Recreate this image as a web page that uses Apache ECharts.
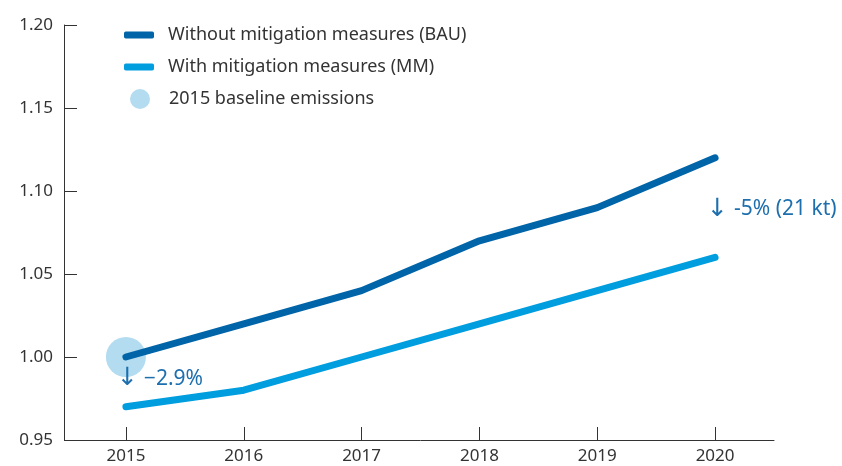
<!DOCTYPE html>
<html>
<head>
<meta charset="utf-8">
<script src="https://cdn.jsdelivr.net/npm/echarts@6/dist/echarts.min.js"></script>
<style>
  html, body { margin: 0; padding: 0; background: #fff; }
  #chart { width: 842px; height: 466px; }
</style>
</head>
<body>
<div id="chart"></div>
<script>
  // data
  const years = ['2015', '2016', '2017', '2018', '2019', '2020']
  const bau = [1.00, 1.02, 1.04, 1.07, 1.09, 1.12]
  const mm = [0.97, 0.98, 1.00, 1.02, 1.04, 1.06]
  const baseline = [['2015', 1.00]]
  const notes = [
    { coord: ['2015', 0.987], text: '−2.9%', size: 21, shift: -9 },
    { coord: ['2020', 1.089], text: '-5% (21 kt)', size: 21, shift: -8 }
  ]

  const font = '"Noto Sans", sans-serif'
  const dark = '#0064a8'
  const light = '#009ddf'
  const pale = '#b3dcf0'
  const ink = '#333333'
  const noteColor = '#1d6fae'

  let option = {
    animation: false,
    grid: { left: 67, right: 68, top: 25, bottom: 26 },
    legend: [
      {
        orient: 'vertical',
        left: 119,
        top: 19,
        itemWidth: 30,
        itemHeight: 7,
        itemGap: 10,
        icon: 'roundRect',
        data: ['Without mitigation measures (BAU)', 'With mitigation measures (MM)'],
        textStyle: { fontFamily: font, fontSize: 18, color: ink, lineHeight: 22, padding: [0, 0, 0, 9] }
      },
      {
        orient: 'vertical',
        left: 125,
        top: 83,
        itemWidth: 20,
        itemHeight: 20,
        icon: 'circle',
        data: ['2015 baseline emissions'],
        textStyle: { fontFamily: font, fontSize: 18, color: ink, lineHeight: 22, padding: [0, 0, 0, 14] }
      }
    ],
    xAxis: {
      type: 'category',
      data: years,
      boundaryGap: true,
      axisLine: { show: true, lineStyle: { color: ink, width: 1 } },
      axisTick: { show: true, length: -13, alignWithLabel: true, lineStyle: { color: ink, width: 1 } },
      axisLabel: { fontFamily: font, fontSize: 17, color: ink, margin: 8 }
    },
    yAxis: {
      type: 'value',
      min: 0.95,
      max: 1.20,
      interval: 0.05,
      offset: 3,
      splitLine: { show: false },
      axisLine: { show: true, lineStyle: { color: ink, width: 1 } },
      axisTick: { show: true, length: -13, lineStyle: { color: ink, width: 1 } },
      axisLabel: {
        fontFamily: font, fontSize: 17, color: ink, margin: 11,
        formatter: v => v.toFixed(2)
      }
    },
    series: [
      {
        name: '2015 baseline emissions',
        type: 'scatter',
        data: baseline,
        symbolSize: 40,
        itemStyle: { color: pale, opacity: 1 },
        z: 1
      },
      {
        name: 'Without mitigation measures (BAU)',
        type: 'line',
        data: bau,
        symbol: 'none',
        color: dark,
        lineStyle: { color: dark, width: 7, cap: 'round', join: 'round' },
        z: 3
      },
      {
        name: 'With mitigation measures (MM)',
        type: 'line',
        data: mm,
        symbol: 'none',
        color: light,
        lineStyle: { color: light, width: 7, cap: 'round', join: 'round' },
        markPoint: {
          symbol: 'circle',
          symbolSize: 0,
          data: notes.map(n => ({
            coord: n.coord,
            label: {
              show: true,
              position: 'right',
              distance: 0,
              offset: [n.shift, 0],
              formatter: '{a|↓}{b|' + n.text + '}',
              rich: {
                a: { fontFamily: '"DejaVu Sans", sans-serif', fontSize: 25, color: noteColor, padding: [0, 6, 0, 0] },
                b: { fontFamily: font, fontSize: n.size, color: noteColor }
              }
            }
          }))
        },
        z: 3
      }
    ]
  }

  let dom = echarts.init(document.getElementById('chart'))
  dom.setOption(option)
</script>
</body>
</html>
